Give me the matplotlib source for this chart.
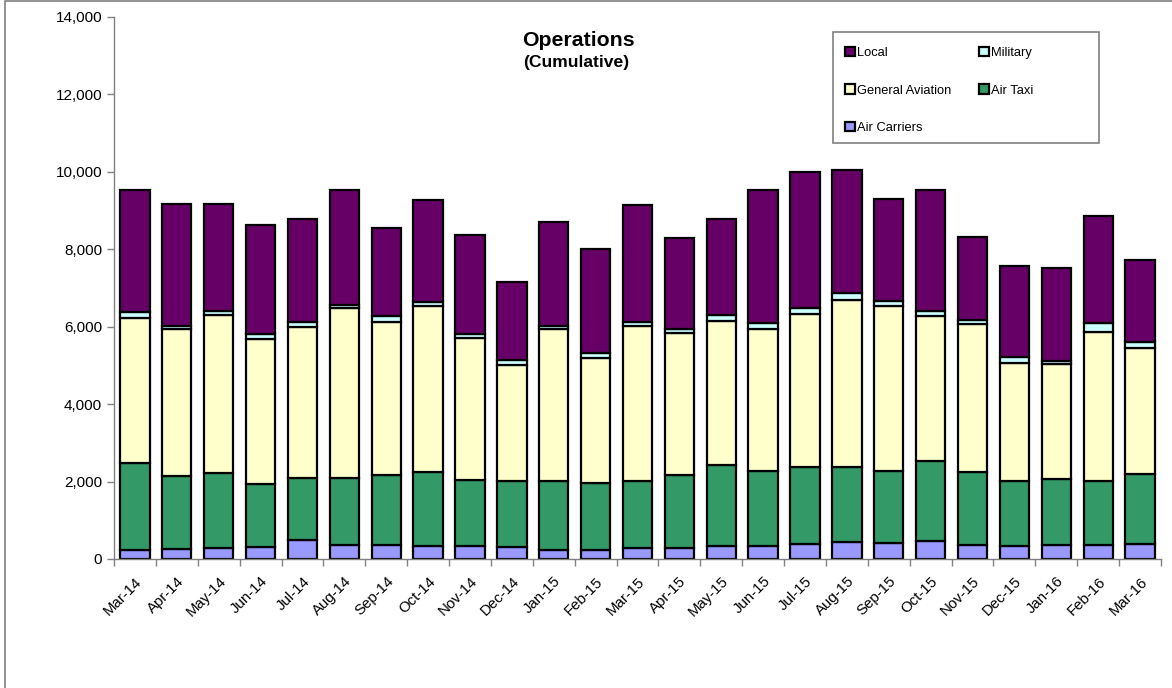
import matplotlib
matplotlib.use("Agg")
import matplotlib.pyplot as plt
import numpy as np
from matplotlib.patches import Rectangle

plt.rcParams['font.family'] = ['Liberation Sans', 'DejaVu Sans']

months = ["Mar-14", "Apr-14", "May-14", "Jun-14", "Jul-14", "Aug-14", "Sep-14", "Oct-14",
          "Nov-14", "Dec-14", "Jan-15", "Feb-15", "Mar-15", "Apr-15", "May-15", "Jun-15",
          "Jul-15", "Aug-15", "Sep-15", "Oct-15", "Nov-15", "Dec-15", "Jan-16", "Feb-16", "Mar-16"]

air_carriers = [241, 259, 284, 310, 483, 371, 371, 328, 328, 302, 241, 241, 284, 284, 328, 328,
                397, 440, 414, 457, 371, 328, 371, 371, 388]
air_taxi = [2242, 1896, 1940, 1630, 1612, 1724, 1810, 1922, 1706, 1707, 1768, 1716, 1725, 1897,
            2094, 1939, 1974, 1931, 1870, 2086, 1879, 1698, 1707, 1655, 1810]
general_aviation = [3733, 3776, 4078, 3750, 3896, 4379, 3940, 4293, 3682, 3000, 3922, 3224, 4017,
                    3647, 3725, 3681, 3948, 4319, 4250, 3733, 3828, 3043, 2948, 3845, 3259]
military = [172, 86, 112, 112, 130, 95, 146, 86, 86, 138, 95, 129, 95, 103, 163, 138, 155, 189,
            130, 129, 86, 147, 86, 215, 155]
local = [3138, 3164, 2767, 2827, 2655, 2957, 2293, 2647, 2569, 2008, 2672, 2690, 3026, 2353,
         2466, 3440, 3535, 3164, 2629, 3138, 2155, 2344, 2397, 2776, 2112]

series = [("Air Carriers", air_carriers, "#9999FF"),
          ("Air Taxi", air_taxi, "#339966"),
          ("General Aviation", general_aviation, "#FFFFCC"),
          ("Military", military, "#CCFFFF"),
          ("Local", local, "#660066")]

W, H = 1172, 688
fig = plt.figure(figsize=(W / 100, H / 100), dpi=100)
# chart area border (extends beyond right/bottom edges)
fig.patches.append(Rectangle((5 / W, -0.05), 1.2, 1 - 1.5 / H + 0.05, transform=fig.transFigure,
                             fill=False, edgecolor="#808080", linewidth=1.2))
ax = fig.add_axes([114 / W, 1 - 559 / H, 1047 / W, 542 / H])

x = np.arange(len(months))
bottom = np.zeros(len(months))
handles = {}
for name, vals, color in series:
    vals = np.array(vals, dtype=float)
    h = ax.bar(x, vals, width=0.70, bottom=bottom, color=color, edgecolor="black",
               linewidth=1.6, label=name)
    handles[name] = h
    bottom += vals

ax.set_ylim(0, 14000)
ax.set_xlim(-0.5, len(months) - 0.5)
ax.set_yticks(np.arange(0, 14001, 2000))
ax.set_yticklabels([f"{v:,}" for v in range(0, 14001, 2000)], fontsize=11)
ax.set_xticks(x)
ax.set_xticklabels(months, rotation=45, ha="right", rotation_mode="anchor", fontsize=10.8)
ax.tick_params(axis="x", which="major", length=0, pad=11)
ax.set_xticks(np.arange(-0.5, len(months), 1.0), minor=True)
ax.tick_params(axis="x", which="minor", length=5, color="#808080", width=1)
ax.tick_params(axis="y", length=5, color="#808080", width=1)
for s in ["top", "right"]:
    ax.spines[s].set_visible(False)
for s in ["left", "bottom"]:
    ax.spines[s].set_color("#808080")
    ax.spines[s].set_linewidth(1)

fig.text(578 / W, 1 - 40 / H, "Operations", ha="center", va="center", fontsize=15.3, fontweight="bold")
fig.text(576 / W, 1 - 62.5 / H, "(Cumulative)", ha="center", va="center", fontsize=12.6, fontweight="bold")

# legend box
fig.patches.append(Rectangle((833 / W, 1 - 143 / H), 266 / W, 111 / H, transform=fig.transFigure,
                             fill=True, facecolor="white", edgecolor="#808080", linewidth=1.2,
                             zorder=5))
order = ["Local", "General Aviation", "Air Carriers", "Military", "Air Taxi"]
leg = fig.legend([handles[n] for n in order], order, ncol=2, loc="upper left",
                 bbox_to_anchor=(845 / W, 1 - 47 / H), bbox_transform=fig.transFigure,
                 frameon=False, fontsize=9.3, borderpad=0, borderaxespad=0,
                 handlelength=0.75, handleheight=0.75, handletextpad=0.15,
                 labelspacing=1.94, columnspacing=2.2)
leg.set_zorder(6)

fig.savefig("out.png", dpi=100)
